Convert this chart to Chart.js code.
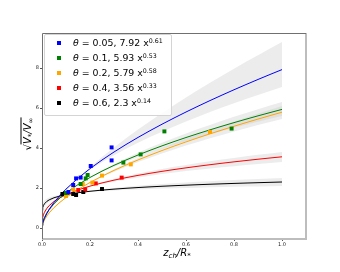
<!DOCTYPE html>
<html>
<head>
<meta charset="utf-8">
<script src="https://cdn.jsdelivr.net/npm/chart.js@4.4.0/dist/chart.umd.min.js"></script>
<style>
  body { margin: 0; background: #fff; }
  #wrap { position: relative; width: 340px; height: 272px; font-family: "DejaVu Sans", sans-serif; color: #000; }
  #legend { position: absolute; left: 44px; top: 34px; width: 128px; height: 82px; background: rgba(255,255,255,0.85);
            border: 1px solid #d4d4d4; border-radius: 2px; box-sizing: border-box; }
  .row { position: absolute; left: 0; height: 14px; font-size: 9.4px; line-height: 14px; white-space: nowrap; }
  .mk { position: absolute; left: 12px; top: 5px; width: 4px; height: 4px; }
  .txt { position: absolute; left: 28px; top: 0; }
  .txt sup { font-size: 6.3px; vertical-align: 3.5px; line-height: 0; }
  #ytitle { position: absolute; left: 27px; top: 134px; transform: translate(-50%, -50%) rotate(-90deg);
            font-size: 10px; white-space: nowrap; }
  #ytitle .ov { border-top: 1px solid #000; padding-top: 0px; font-style: italic; }
  #xtitle { position: absolute; left: 177px; top: 252px; transform: translate(-50%, -50%);
            font-size: 10px; font-style: italic; white-space: nowrap; }
  sub { font-size: 7px; vertical-align: -2px; line-height: 0; }
</style>
</head>
<body>
<div id="wrap">
  <canvas id="c" width="340" height="272"></canvas>
  <div id="legend"></div>
  <div id="ytitle">&radic;<span class="ov">V<sub>*</sub>/V<sub>&infin;</sub></span></div>
  <div id="xtitle">z<sub>ch</sub>/R<sub>*</sub></div>
</div>
<script>
// series labels and colours
const thetas = ['0.05', '0.1', '0.2', '0.4', '0.6'];
const colors = ['#0000ff', '#008000', '#ffa500', '#ff0000', '#000000'];

// power-law fits a * x^b (from legend)
const fitA = [7.92, 5.93, 5.79, 3.56, 2.3];
const fitB = [0.61, 0.53, 0.58, 0.33, 0.14];

const bandHiA = [9.3, 6.3, 6.1, 3.8, 2.5];
const bandHiB = [0.695, 0.562, 0.607, 0.364, 0.184];
const bandLoA = [7.05, 5.6, 5.45, 3.3, 2.1];
const bandLoB = [0.549, 0.50, 0.548, 0.29, 0.092];

// x positions where the fits are evaluated
const xGrid = [0.001, 0.003, 0.006, 0.01, 0.02, 0.03, 0.05, 0.075, 0.1, 0.15, 0.2, 0.25, 0.3, 0.35, 0.4,
  0.45, 0.5, 0.55, 0.6, 0.65, 0.7, 0.75, 0.8, 0.85, 0.9, 0.95, 1.0];

// measured points
const ptsX = [
  [0.11, 0.13, 0.142, 0.161, 0.203, 0.29, 0.29],
  [0.1, 0.161, 0.182, 0.19, 0.339, 0.411, 0.51, 0.79],
  [0.1, 0.13, 0.17, 0.21, 0.25, 0.37, 0.70],
  [0.1, 0.151, 0.18, 0.224, 0.332],
  [0.085, 0.096, 0.13, 0.142, 0.172, 0.25]
];
const ptsY = [
  [1.8, 2.15, 2.48, 2.52, 3.1, 4.03, 3.38],
  [1.75, 2.2, 2.48, 2.65, 3.27, 3.68, 4.83, 4.97],
  [1.6, 1.93, 2.2, 2.27, 2.62, 3.18, 4.8],
  [1.7, 1.9, 1.93, 2.23, 2.52],
  [1.7, 1.73, 1.7, 1.65, 1.8, 1.95]
];

const xTicks = [0, 0.2, 0.4, 0.6, 0.8, 1.0];
const yTicks = [0, 2, 4, 6, 8];

const curve = (a, b) => xGrid.map(x => ({ x: x, y: a * Math.pow(x, b) }));

const datasets = [];
thetas.forEach((t, i) => {
  datasets.push({
    data: curve(bandHiA[i], bandHiB[i]), showLine: true, pointRadius: 0, borderWidth: 0,
    borderColor: 'rgba(0,0,0,0)', backgroundColor: 'rgba(200,200,200,0.35)', fill: '+1', order: 10
  });
  datasets.push({
    data: curve(bandLoA[i], bandLoB[i]), showLine: true, pointRadius: 0, borderWidth: 0,
    borderColor: 'rgba(0,0,0,0)', fill: false, order: 10
  });
});
thetas.forEach((t, i) => {
  datasets.push({
    data: curve(fitA[i], fitB[i]), showLine: true, pointRadius: 0, borderWidth: 1,
    borderColor: colors[i], fill: false, order: 5
  });
});
thetas.forEach((t, i) => {
  datasets.push({
    data: ptsX[i].map((x, k) => ({ x: x, y: ptsY[i][k] })), pointStyle: 'rect', pointRadius: 2.8,
    backgroundColor: colors[i], borderWidth: 0, order: 1
  });
});

// legend with superscripts
const legend = document.getElementById('legend');
thetas.forEach((t, i) => {
  const row = document.createElement('div');
  row.className = 'row';
  row.style.top = (1 + i * 15) + 'px';
  row.innerHTML = '<div class="mk" style="background:' + colors[i] + '"></div>' +
    '<div class="txt"><i>&theta;</i> = ' + t + ', ' + fitA[i] + ' x<sup>' + fitB[i] + '</sup></div>';
  legend.appendChild(row);
});

const frame = {
  id: 'frame',
  afterDraw(chart) {
    const { ctx, chartArea: a } = chart;
    ctx.save();
    ctx.strokeStyle = '#bdbdbd';
    ctx.lineWidth = 2;
    ctx.beginPath();
    ctx.moveTo(a.left, a.bottom); ctx.lineTo(a.right, a.bottom); ctx.lineTo(a.right, a.top);
    ctx.stroke();
    ctx.strokeStyle = '#707070';
    ctx.lineWidth = 1;
    ctx.beginPath();
    ctx.moveTo(a.left + 0.5, a.bottom); ctx.lineTo(a.left + 0.5, a.top + 0.5); ctx.lineTo(a.right, a.top + 0.5);
    ctx.stroke();
    ctx.restore();
  }
};

new Chart(document.getElementById('c'), {
  type: 'scatter',
  data: { datasets: datasets },
  plugins: [frame],
  options: {
    responsive: false,
    animation: false,
    layout: { padding: { top: 33, right: 34, left: 0, bottom: 0 } },
    plugins: { legend: { display: false }, tooltip: { enabled: false } },
    scales: {
      x: {
        type: 'linear', min: 0, max: 1.1,
        afterBuildTicks: s => { s.ticks = xTicks.map(v => ({ value: v })); },
        afterFit: s => { s.height = 33; },
        border: { display: false },
        grid: { drawOnChartArea: false, tickLength: 2, color: '#555' },
        ticks: { font: { size: 5, family: 'DejaVu Sans' }, color: '#222', padding: 1, maxRotation: 0,
                 callback: v => v.toFixed(1) }
      },
      y: {
        type: 'linear', min: -0.55, max: 9.75,
        afterBuildTicks: s => { s.ticks = yTicks.map(v => ({ value: v })); },
        afterFit: s => { s.width = 42; },
        border: { display: false },
        grid: { drawOnChartArea: false, tickLength: 2, color: '#555' },
        ticks: { font: { size: 5, family: 'DejaVu Sans' }, color: '#222', padding: 1,
                 callback: v => String(v) }
      }
    }
  }
});
</script>
</body>
</html>
